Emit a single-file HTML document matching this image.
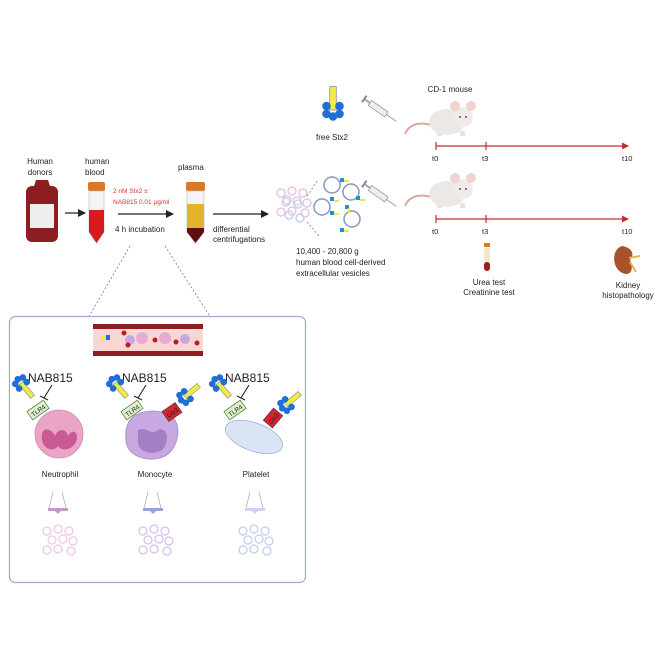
<!DOCTYPE html>
<html><head><meta charset="utf-8"><style>
html,body{margin:0;padding:0;background:#fff}
svg{display:block;font-family:"Liberation Sans",sans-serif}
</style></head><body>
<svg width="664" height="664" viewBox="0 0 664 664" xmlns="http://www.w3.org/2000/svg">
<defs>
<marker id="ah" markerWidth="8" markerHeight="8" refX="7" refY="4" orient="auto" markerUnits="userSpaceOnUse"><path d="M0,0 L8,4 L0,8 z" fill="#222"/></marker>
<marker id="rh" markerWidth="7" markerHeight="7" refX="6" refY="3.5" orient="auto" markerUnits="userSpaceOnUse"><path d="M0,0 L7,3.5 L0,7 z" fill="#c0302a"/></marker>
<g id="tox">
<rect x="-2.5" y="-18" width="5" height="18" fill="#f1ea48" stroke="#777" stroke-width="0.5"/>
<circle cx="-5" cy="-3" r="3.3" fill="#1f6fd6"/><circle cx="5" cy="-3" r="3.3" fill="#1f6fd6"/>
<circle cx="-5" cy="3" r="3.3" fill="#1f6fd6"/><circle cx="5" cy="3" r="3.3" fill="#1f6fd6"/>
<circle cx="0" cy="5" r="3.3" fill="#1f6fd6"/>
</g>
<g id="ves" fill="none" stroke-width="1.2">
<circle cx="0" cy="0" r="4"/><circle cx="11" cy="-2" r="4"/><circle cx="22" cy="0" r="4"/>
<circle cx="5" cy="9" r="4"/><circle cx="16" cy="8" r="4"/><circle cx="26" cy="10" r="4"/>
<circle cx="0" cy="19" r="4"/><circle cx="11" cy="18" r="4"/><circle cx="24" cy="20" r="4"/>
</g>
<g id="mouse">
<path d="M0,34 C5,22 18,22 30,26" stroke="#d9a8a0" stroke-width="2" fill="none"/>
<ellipse cx="42" cy="22" rx="18" ry="13" fill="#ece8e6"/>
<circle cx="58" cy="17" r="10" fill="#f0eceb"/>
<ellipse cx="50" cy="6" rx="5" ry="5" fill="#f1d4d0"/><ellipse cx="66" cy="6" rx="5" ry="5" fill="#f1d4d0"/>
<circle cx="55" cy="17" r="1" fill="#a33"/><circle cx="61" cy="17" r="1" fill="#a33"/>
<rect x="32" y="32" width="5" height="4" fill="#e9e3e1"/><rect x="55" y="31" width="5" height="5" fill="#e9e3e1"/>
</g>
<g id="syr">
<g transform="rotate(35)">
<rect x="0" y="-3" width="20" height="6" fill="#eee" stroke="#999" stroke-width="0.8"/>
<rect x="-6" y="-1" width="6" height="2" fill="#aaa"/><rect x="-8" y="-4" width="2" height="8" fill="#888"/>
<line x1="20" y1="0" x2="32" y2="0" stroke="#888" stroke-width="0.8"/>
</g>
</g>
</defs>

<text x="40" y="164" font-size="8" text-anchor="middle" fill="#222">Human</text>
<text x="40" y="175" font-size="8" text-anchor="middle" fill="#222">donors</text>
<rect x="26" y="186" width="32" height="56" rx="6" fill="#8e1d22"/>
<path d="M34,186 L36,180 L48,180 L50,186" fill="#8e1d22"/>
<rect x="30" y="204" width="24" height="24" fill="#eee"/>
<line x1="65" y1="213" x2="85" y2="213" stroke="#222" stroke-width="1.2" marker-end="url(#ah)"/>

<text x="85" y="164" font-size="8" fill="#222">human</text>
<text x="85" y="175" font-size="8" fill="#222">blood</text>
<rect x="88" y="182" width="17" height="9" rx="2" fill="#d8782a"/>
<path d="M89,191 L104,191 L104,232 L96.5,243 L89,232 Z" fill="#f4f4f4" stroke="#bbb" stroke-width="0.6"/>
<path d="M89,210 L104,210 L104,232 L96.5,243 L89,232 Z" fill="#d8191e"/>
<text x="113" y="193" font-size="6.5" fill="#d0352e">2 nM Stx2 ±</text>
<text x="113" y="204" font-size="6.5" fill="#d0352e">NAB815 0.01 µg/ml</text>
<line x1="118" y1="214" x2="173" y2="214" stroke="#222" stroke-width="1.2" marker-end="url(#ah)"/>
<text x="115" y="232" font-size="8" fill="#222">4 h incubation</text>

<text x="178" y="170" font-size="8" fill="#222">plasma</text>
<rect x="186" y="182" width="19" height="9" rx="2" fill="#d8782a"/>
<path d="M187,191 L204,191 L204,232 L195.5,243 L187,232 Z" fill="#f4f4f4" stroke="#bbb" stroke-width="0.6"/>
<path d="M187,204 L204,204 L204,228 L187,228 Z" fill="#e3b32a"/>
<path d="M187,228 L204,228 L204,232 L195.5,243 L187,232 Z" fill="#5e0f10"/>
<line x1="213" y1="214" x2="268" y2="214" stroke="#222" stroke-width="1.2" marker-end="url(#ah)"/>
<text x="213" y="232" font-size="8" fill="#222">differential</text>
<text x="213" y="242" font-size="8" fill="#222">centrifugations</text>

<use href="#ves" x="281" y="193" stroke="#e6b9e3"/>
<g fill="none" stroke="#b9cbe9" stroke-width="1.2"><circle cx="287" cy="200" r="4"/><circle cx="298" cy="204" r="4"/><circle cx="289" cy="215" r="4"/><circle cx="300" cy="218" r="4"/></g>
<line x1="307" y1="196" x2="318" y2="180" stroke="#5566aa" stroke-width="0.7" stroke-dasharray="2,2"/>
<line x1="307" y1="222" x2="320" y2="237" stroke="#5566aa" stroke-width="0.7" stroke-dasharray="2,2"/>
<g fill="none" stroke="#8795c0" stroke-width="1.5">
<circle cx="332" cy="185" r="8"/><circle cx="351" cy="192" r="8"/><circle cx="322" cy="207" r="8"/><circle cx="352" cy="219" r="8"/>
</g>
<g fill="#1f8fd6"><rect x="340" y="178" width="4" height="4"/><rect x="330" y="197" width="4" height="4"/><rect x="356" y="196" width="4" height="4"/><rect x="330" y="211" width="4" height="4"/><rect x="345" y="205" width="4" height="4"/><rect x="340" y="228" width="4" height="4"/></g>
<g fill="#f1ea48"><rect x="344" y="180" width="5" height="2"/><rect x="334" y="200" width="5" height="2"/><rect x="360" y="199" width="5" height="2"/><rect x="334" y="213" width="5" height="2"/><rect x="348" y="208" width="2" height="5"/><rect x="344" y="230" width="5" height="2"/></g>
<text x="296" y="254" font-size="8" fill="#222">10,400 - 20,800 g</text>
<text x="296" y="265" font-size="8" fill="#222">human blood cell-derived</text>
<text x="296" y="276" font-size="8" fill="#222">extracellular vesicles</text>

<use href="#tox" transform="translate(333,110) scale(1.3)"/>
<text x="332" y="140" font-size="8" text-anchor="middle" fill="#222">free Stx2</text>
<use href="#syr" x="370" y="103"/>
<use href="#syr" x="370" y="188"/>

<text x="450" y="92" font-size="8" text-anchor="middle" fill="#222">CD-1 mouse</text>
<use href="#mouse" x="405" y="100"/>
<use href="#mouse" x="405" y="172"/>

<g stroke="#c0302a" stroke-width="1.2">
<line x1="436" y1="146" x2="628" y2="146" marker-end="url(#rh)"/>
<line x1="436" y1="142" x2="436" y2="150"/><line x1="486" y1="142" x2="486" y2="150"/>
<line x1="436" y1="219" x2="628" y2="219" marker-end="url(#rh)"/>
<line x1="436" y1="215" x2="436" y2="223"/><line x1="486" y1="215" x2="486" y2="223"/>
</g>
<g font-size="7.5" fill="#222">
<text x="432" y="161">t0</text><text x="482" y="161">t3</text><text x="622" y="161">t10</text>
<text x="432" y="234">t0</text><text x="482" y="234">t3</text><text x="622" y="234">t10</text>
</g>
<rect x="484" y="243" width="6" height="4" fill="#d8782a"/>
<rect x="484" y="247" width="6" height="24" rx="3" fill="#f3e7d0"/>
<rect x="484" y="262" width="6" height="9" rx="3" fill="#9e1c1c"/>
<text x="489" y="285" font-size="8" text-anchor="middle" fill="#222">Urea test</text>
<text x="489" y="295" font-size="8" text-anchor="middle" fill="#222">Creatinine test</text>
<path d="M622,246 C610,250 612,272 626,274 C634,274 632,264 630,260 C634,256 634,248 622,246 Z" fill="#a8522a"/>
<path d="M629,258 L640,256 M630,262 L636,272" stroke="#e2b64a" stroke-width="2"/>
<text x="628" y="288" font-size="8" text-anchor="middle" fill="#222">Kidney</text>
<text x="628" y="298" font-size="8" text-anchor="middle" fill="#222">histopathology</text>

<line x1="130" y1="246" x2="88" y2="318" stroke="#5566aa" stroke-width="0.7" stroke-dasharray="2,2"/>
<line x1="165" y1="246" x2="211" y2="318" stroke="#5566aa" stroke-width="0.7" stroke-dasharray="2,2"/>

<rect x="9.5" y="316.5" width="296" height="266" rx="6" fill="#fff" stroke="#9aa9d8" stroke-width="1.2"/>
<rect x="93" y="325" width="110" height="30" fill="#f7d6d3"/>
<rect x="93" y="324" width="110" height="5" fill="#8e1d22"/>
<rect x="93" y="351" width="110" height="5" fill="#8e1d22"/>
<circle cx="142" cy="338" r="6" fill="#e8a9d2"/><circle cx="165" cy="338" r="6" fill="#e8a9d2"/><circle cx="130" cy="340" r="5" fill="#c7a8e0"/><circle cx="185" cy="339" r="5" fill="#c7a8e0"/>
<circle cx="124" cy="333" r="2.5" fill="#b51d23"/><circle cx="128" cy="345" r="2.5" fill="#b51d23"/><circle cx="155" cy="340" r="2.5" fill="#b51d23"/><circle cx="176" cy="342" r="2.5" fill="#b51d23"/><circle cx="197" cy="343" r="2.5" fill="#b51d23"/>
<rect x="102" y="336" width="6" height="4" fill="#f1ea48"/><rect x="106" y="335" width="4" height="5" fill="#1f6fd6"/>

<g font-size="12" fill="#222">
<text x="28" y="382">NAB815</text><text x="122" y="382">NAB815</text><text x="225" y="382">NAB815</text>
</g>
<g stroke="#222" stroke-width="1.1" fill="none">
<path d="M52,385 L44,398 M40,396 L48,400"/>
<path d="M146,385 L138,398 M134,396 L142,400"/>
<path d="M249,385 L241,398 M237,396 L245,400"/>
</g>
<circle cx="59" cy="434" r="24" fill="#eba3c6" stroke="#d888b0" stroke-width="0.8"/>
<path d="M42,440 C40,425 52,428 55,436 C58,428 66,428 68,436 C72,428 80,432 76,442 C72,450 62,452 58,446 C54,452 44,450 42,440 Z" fill="#c95a93"/>
<path d="M130,420 C138,408 168,408 175,420 C182,432 176,454 160,458 C145,462 126,455 126,440 C125,432 126,426 130,420 Z" fill="#c7a8e0" stroke="#a88ac6" stroke-width="0.8"/>
<path d="M138,430 C146,426 150,436 158,430 C168,426 170,442 162,450 C152,456 138,452 138,442 Z" fill="#a37fc4"/>
<ellipse cx="254" cy="437" rx="30" ry="14" transform="rotate(20 254 437)" fill="#dbe4f5" stroke="#9fb2d9" stroke-width="0.8"/>

<g transform="translate(38,410) rotate(-35)"><rect x="-10" y="-5" width="20" height="10" fill="#dff0cd" stroke="#4a7a2a" stroke-width="0.7"/><text x="0" y="3" font-size="6.5" text-anchor="middle" fill="#222">TLR4</text></g>
<g transform="translate(132,410) rotate(-35)"><rect x="-10" y="-5" width="20" height="10" fill="#dff0cd" stroke="#4a7a2a" stroke-width="0.7"/><text x="0" y="3" font-size="6.5" text-anchor="middle" fill="#222">TLR4</text></g>
<g transform="translate(235,410) rotate(-35)"><rect x="-10" y="-5" width="20" height="10" fill="#dff0cd" stroke="#4a7a2a" stroke-width="0.7"/><text x="0" y="3" font-size="6.5" text-anchor="middle" fill="#222">TLR4</text></g>
<g transform="translate(172,412) rotate(-35)"><rect x="-8" y="-6" width="16" height="12" fill="#d9232e" stroke="#333" stroke-width="0.6"/><text x="0" y="3" font-size="6.5" text-anchor="middle" fill="#222">Gb3</text></g>
<g transform="translate(273,418) rotate(-50)"><rect x="-8" y="-6" width="16" height="12" fill="#d9232e" stroke="#333" stroke-width="0.6"/><text x="0" y="3" font-size="6.5" text-anchor="middle" fill="#222">Gb3</text></g>

<use href="#tox" transform="translate(21,383) rotate(140)"/>
<use href="#tox" transform="translate(115,383) rotate(140)"/>
<use href="#tox" transform="translate(218,383) rotate(140)"/>
<use href="#tox" transform="translate(185,397) rotate(50)"/>
<use href="#tox" transform="translate(286,405) rotate(50)"/>

<g font-size="8" fill="#222" text-anchor="middle">
<text x="60" y="477">Neutrophil</text><text x="155" y="477">Monocyte</text><text x="256" y="477">Platelet</text>
</g>
<g stroke="#aaa" stroke-width="0.7">
<line x1="53" y1="492" x2="49" y2="508"/><line x1="62" y1="492" x2="66" y2="508"/>
<line x1="148" y1="492" x2="144" y2="508"/><line x1="157" y1="492" x2="161" y2="508"/>
<line x1="250" y1="492" x2="246" y2="508"/><line x1="259" y1="492" x2="263" y2="508"/>
</g>
<path d="M48,508 h20 v3 h-7 l-3,3 l-3,-3 h-7 z" fill="#c39ac7"/>
<path d="M143,508 h20 v3 h-7 l-3,3 l-3,-3 h-7 z" fill="#9aa3d6"/>
<path d="M245,508 h20 v3 h-7 l-3,3 l-3,-3 h-7 z" fill="#cdd3ec"/>
<use href="#ves" x="47" y="531" stroke="#f0c3e4"/>
<use href="#ves" x="143" y="531" stroke="#d3bdf0"/>
<use href="#ves" x="243" y="531" stroke="#b9cef0"/>
</svg>
</body></html>
